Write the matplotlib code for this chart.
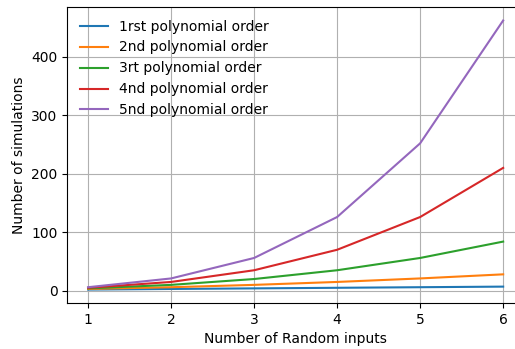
import matplotlib
matplotlib.use("Agg")
import matplotlib.pyplot as plt

# number of random inputs and the number of simulations needed per polynomial order
n_inputs = [1, 2, 3, 4, 5, 6]
order_1 = [2, 3, 4, 5, 6, 7]
order_2 = [3, 6, 10, 15, 21, 28]
order_3 = [4, 10, 20, 35, 56, 84]
order_4 = [5, 15, 35, 70, 126, 210]
order_5 = [6, 21, 56, 126, 252, 462]
labels = [
    "1rst polynomial order",
    "2nd polynomial order",
    "3rt polynomial order",
    "4nd polynomial order",
    "5nd polynomial order",
]

fig = plt.figure(figsize=(5.15, 3.49), dpi=100)
ax = fig.add_axes([0.1307, 0.1318, 0.8866, 0.848])

for series, label in zip([order_1, order_2, order_3, order_4, order_5], labels):
    ax.plot(n_inputs, series, label=label)

ax.set_xlabel("Number of Random inputs")
ax.set_ylabel("Number of simulations")
ax.grid(True)
ax.legend(loc="upper left", frameon=False)

fig.savefig("out.png", dpi=100)
